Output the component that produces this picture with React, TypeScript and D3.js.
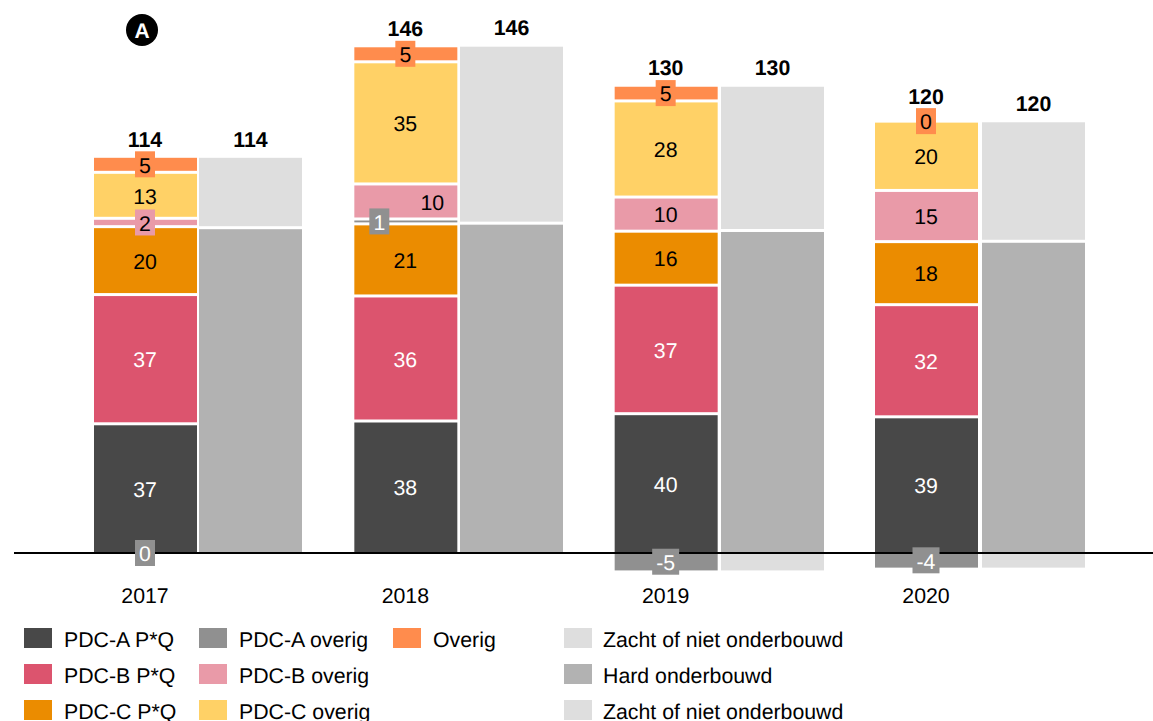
import React from "react";
import * as d3 from "d3";

const years = ["2017", "2018", "2019", "2020"];
const pdcAPQ = [37.1, 37.9, 40, 39.1];
const pdcBPQ = [37.1, 35.9, 36.9, 32.2];
const pdcCPQ = [19.5, 20.7, 15.5, 18.1];
const pdcAOverig = [0, 1.4, -5.0, -4.2];
const pdcBOverig = [2.4, 10.06, 9.8, 14.7];
const pdcCOverig = [13.2, 35.07, 27.6, 19.9];
const overig = [4.6, 4.6, 4.5, 0];
const hard = [93.4, 94.7, 92.6, 89.5];
const zacht = [20.5, 51.1, 41.7, 34.6];
const zachtNeg = [0, 0, -5.0, -4.2];
const totals = [114, 146, 130, 120];

const leftSeries = [
  { key: "PDC-A P*Q", values: pdcAPQ, color: "#484848", text: "#fff" },
  { key: "PDC-B P*Q", values: pdcBPQ, color: "#DC546E", text: "#fff" },
  { key: "PDC-C P*Q", values: pdcCPQ, color: "#EB8C00", text: "#000" },
  { key: "PDC-A overig", values: pdcAOverig, color: "#909090", text: "#fff" },
  { key: "PDC-B overig", values: pdcBOverig, color: "#E99AA8", text: "#000" },
  { key: "PDC-C overig", values: pdcCOverig, color: "#FFD166", text: "#000" },
  { key: "Overig", values: overig, color: "#FF8C4D", text: "#000" },
];
const rightSeries = [
  { key: "Hard onderbouwd", values: hard, color: "#B2B2B2" },
  { key: "Zacht of niet onderbouwd", values: zacht, color: "#DEDEDE" },
  { key: "Zacht of niet onderbouwd (neg)", values: zachtNeg, color: "#DEDEDE" },
];

const legendItems = [
  { label: "PDC-A P*Q", color: "#484848", col: 0, row: 0 },
  { label: "PDC-B P*Q", color: "#DC546E", col: 0, row: 1 },
  { label: "PDC-C P*Q", color: "#EB8C00", col: 0, row: 2 },
  { label: "PDC-A overig", color: "#909090", col: 1, row: 0 },
  { label: "PDC-B overig", color: "#E99AA8", col: 1, row: 1 },
  { label: "PDC-C overig", color: "#FFD166", col: 1, row: 2 },
  { label: "Overig", color: "#FF8C4D", col: 2, row: 0 },
  { label: "Zacht of niet onderbouwd", color: "#DEDEDE", col: 3, row: 0 },
  { label: "Hard onderbouwd", color: "#B2B2B2", col: 3, row: 1 },
  { label: "Zacht of niet onderbouwd", color: "#DEDEDE", col: 3, row: 2 },
];

const W = 1153;
const H = 721;
const FONT = "'Liberation Sans', Arial, sans-serif";
const FS = 21.3;
const BAR_W = 103;
const GAP = 1.5;
const LABEL_DY = 8.2;

const y = d3.scaleLinear().domain([0, 146]).range([553, 44.5]);
const xLeft = d3.scalePoint<string>().domain(years).range([94, 875]);
const xRight = d3.scalePoint<string>().domain(years).range([199, 982]);
const legendX = [24, 199, 393, 564];
const legendTextX = [64, 239, 433, 603];
const legendY = [628, 664, 700];

function stackOf(series: { key: string; values: number[] }[]) {
  const rows = years.map((yr, i) => {
    const r: Record<string, number> = {};
    series.forEach((s) => (r[s.key] = s.values[i]));
    return r;
  });
  return d3
    .stack<Record<string, number>>()
    .keys(series.map((s) => s.key))
    .offset(d3.stackOffsetDiverging)(rows);
}

const leftStack = stackOf(leftSeries);
const rightStack = stackOf(rightSeries);

const labelShift: Record<string, number> = { "2018|PDC-A overig": -26, "2018|PDC-B overig": 27 };

export default function App() {
  const bars = (stack: any[], series: any[], x: (k: string) => number | undefined, side: string) =>
    stack.map((layer, si) =>
      layer.map((d: number[], i: number) => {
        const hi = Math.max(d[0], d[1]);
        const lo = Math.min(d[0], d[1]);
        if (hi === lo) return null;
        const top = y(hi) + (hi === 0 ? 0 : GAP);
        const bottom = y(lo) - (lo <= 0 ? 0 : GAP);
        return (
          <rect
            key={`${side}-${si}-${i}`}
            x={x(years[i])!}
            y={top}
            width={BAR_W}
            height={bottom - top}
            fill={series[si].color}
          />
        );
      })
    );

  return (
    <svg
      width={W}
      height={H}
      style={{ position: "absolute", left: 0, top: 0, display: "block", textRendering: "geometricPrecision" }}
      fontFamily={FONT}
      fontSize={FS}
    >
      <rect width={W} height={H} fill="#fff" />
      {bars(leftStack, leftSeries, xLeft, "left")}
      {bars(rightStack, rightSeries, xRight, "right")}

      {/* zero line */}
      <line x1={14} x2={W} y1={y(0)} y2={y(0)} stroke="#000" strokeWidth={2} />

      {/* segment labels */}
      {leftStack.map((layer: any, si: number) =>
        layer.map((d: number[], i: number) => {
          const s = leftSeries[si];
          const v = s.values[i];
          const hgt = Math.abs(y(d[0]) - y(d[1]));
          const shift = labelShift[`${years[i]}|${s.key}`] ?? 0;
          const cx = xLeft(years[i])! + 51 + shift;
          const label = String(Math.round(v));
          const boxed = hgt < 22 && !(shift > 0);
          const bwid = label.length > 1 ? 27 : 20;
          const posTop = y(d3.sum(leftSeries, (q) => Math.max(0, q.values[i])));
          const cy = v === 0 ? (si === 3 ? y(0) : posTop) : y((d[0] + d[1]) / 2);
          return (
            <g key={`l-${si}-${i}`}>
              {boxed && <rect x={cx - bwid / 2} y={cy - 13} width={bwid} height={26} fill={s.color} />}
              <text x={cx} y={cy + LABEL_DY} textAnchor="middle" fill={s.text}>
                {label}
              </text>
            </g>
          );
        })
      )}

      {/* totals */}
      {years.map((yr, i) => {
        const lx = xLeft(yr)! + 51;
        const rx = xRight(yr)! + 51.5;
        const topL = y(d3.sum(leftSeries, (s) => Math.max(0, s.values[i])));
        const topR = y(hard[i] + zacht[i]);
        const liftL = overig[i] === 0 ? 25 : 18;
        return (
          <g key={yr} fontWeight="bold">
            <text x={lx} y={topL - liftL + LABEL_DY} textAnchor="middle">{totals[i]}</text>
            <text x={rx} y={topR - 18 + LABEL_DY} textAnchor="middle">{totals[i]}</text>
            <text x={lx} y={603} textAnchor="middle" fontWeight="normal">{yr}</text>
          </g>
        );
      })}

      {/* marker A */}
      <circle cx={142} cy={30} r={16} fill="#000" />
      <text x={142} y={37.5} textAnchor="middle" fill="#fff" fontWeight="bold" fontSize={21}>A</text>

      {/* legend */}
      {legendItems.map((it, i) => (
        <g key={i}>
          <rect x={legendX[it.col]} y={legendY[it.row]} width={28} height={20} fill={it.color} />
          <text x={legendTextX[it.col]} y={legendY[it.row] + 19}>{it.label}</text>
        </g>
      ))}
    </svg>
  );
}
